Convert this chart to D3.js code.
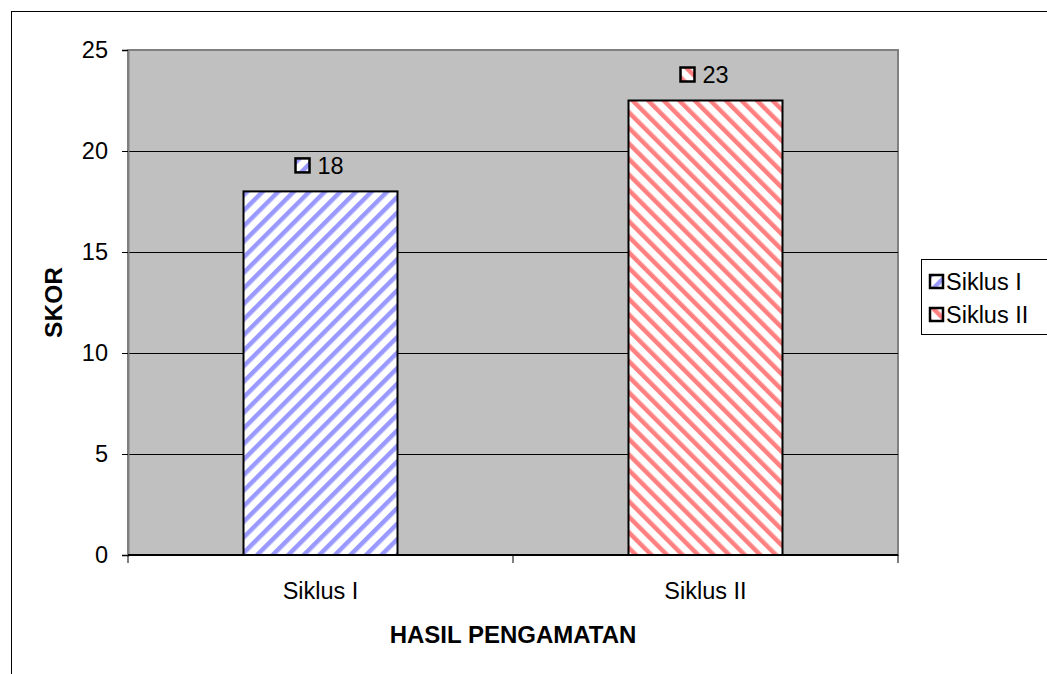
<!DOCTYPE html>
<html>
<head>
<meta charset="utf-8">
<style>
  body { margin: 0; background: #fff }
  text { font-family: Arial, "Liberation Sans", sans-serif }
</style>
<script type="text/javascript" src="https://d3js.org/d3.v7.min.js"></script>
</head>
<body>
<svg id="chart"></svg>
<script type="text/javascript">
let categories = ['Siklus I', 'Siklus II']
let values = [18, 22.5]
let yTicks = [0, 5, 10, 15, 20, 25]
let colors = ['#9999ff', '#ff8080']

let width = 1047,
    height = 674

let plot = {left: 128, right: 898, top: 50, bottom: 555}
let fontSize = 23.5

let svg = d3.select('#chart')
    .attr('width', width)
    .attr('height', height)

// stripe patterns
let defs = svg.append('defs')
colors.forEach(function(c, i) {
  let p = defs.append('pattern')
      .attr('id', 'stripe' + i)
      .attr('patternUnits', 'userSpaceOnUse')
      .attr('width', 11)
      .attr('height', 11)
      .attr('patternTransform', 'rotate(' + (i == 0 ? 45 : -45) + ')')
  p.append('rect').attr('width', 11).attr('height', 11).attr('fill', '#fff')
  p.append('rect').attr('width', 4.5).attr('height', 11).attr('fill', c)
})

// outer chart border
svg.append('rect')
    .attr('x', 11.5).attr('y', 11.5)
    .attr('width', width).attr('height', height)
    .attr('fill', 'none').attr('stroke', '#000').attr('stroke-width', 1)

let x = d3.scaleBand()
    .domain(categories)
    .range([plot.left, plot.right])
    .paddingInner(0.6)
    .paddingOuter(0.3)

let y = d3.scaleLinear()
    .domain([0, 25])
    .range([plot.bottom, plot.top])

svg.append('rect')
    .attr('x', plot.left).attr('y', plot.top)
    .attr('width', plot.right - plot.left).attr('height', plot.bottom - plot.top)
    .attr('fill', '#c0c0c0')
    .attr('stroke', '#808080').attr('stroke-width', 2)

svg.append('g')
  .selectAll('line')
  .data(yTicks.filter(function(d) { return d > 0 && d < 25 }))
  .enter()
  .append('line')
    .attr('x1', plot.left).attr('x2', plot.right)
    .attr('y1', function(d) { return Math.round(y(d)) + 0.5 })
    .attr('y2', function(d) { return Math.round(y(d)) + 0.5 })
    .attr('stroke', '#000')

// bars
svg.append('g')
  .selectAll('rect')
  .data(values)
  .enter()
  .append('rect')
    .attr('x', function(d, i) { return x(categories[i]) })
    .attr('y', function(d) { return y(d) })
    .attr('width', x.bandwidth())
    .attr('height', function(d) { return y(0) - y(d) })
    .attr('fill', function(d, i) { return 'url(#stripe' + i + ')' })
    .attr('stroke', '#000').attr('stroke-width', 2)

// y axis
let yAxis = svg.append('g')
    .attr('transform', 'translate(' + plot.left + ',0)')
    .call(d3.axisLeft(y).tickValues(yTicks).tickSize(6).tickPadding(14))
yAxis.select('.domain').attr('stroke', '#808080').attr('stroke-width', 2)
yAxis.selectAll('.tick line').attr('stroke', '#000')
yAxis.selectAll('text').attr('font-size', fontSize).attr('fill', '#000')
    .attr('font-family', 'Arial, "Liberation Sans", sans-serif')

// x axis
let xAxis = svg.append('g')
    .attr('transform', 'translate(0,' + plot.bottom + ')')
xAxis.append('line')
    .attr('x1', plot.left).attr('x2', plot.right)
    .attr('stroke', '#000').attr('stroke-width', 2)
xAxis.selectAll('line.tk')
  .data([plot.left, (plot.left + plot.right) / 2, plot.right])
  .enter()
  .append('line')
    .attr('class', 'tk')
    .attr('x1', function(d) { return d }).attr('x2', function(d) { return d })
    .attr('y1', 0).attr('y2', 8)
    .attr('stroke', '#000')
xAxis.selectAll('text')
  .data(categories)
  .enter()
  .append('text')
    .attr('x', function(d) { return x(d) + x.bandwidth() / 2 })
    .attr('y', 44)
    .attr('text-anchor', 'middle')
    .attr('font-size', fontSize)
    .text(function(d) { return d })

// data labels
let labels = svg.append('g')
  .selectAll('g')
  .data(values)
  .enter()
  .append('g')
    .attr('transform', function(d, i) {
      return 'translate(' + (x(categories[i]) + x.bandwidth() / 2) + ',' + (y(d) - 26) + ')'
    })
labels.append('rect')
    .attr('x', -25).attr('y', -7)
    .attr('width', 14).attr('height', 14)
    .attr('fill', function(d, i) { return 'url(#stripe' + i + ')' })
    .attr('stroke', '#000').attr('stroke-width', 2.5)
labels.append('text')
    .attr('x', -3).attr('y', 8.5)
    .attr('font-size', fontSize)
    .text(function(d) { return Math.round(d) })

// axis titles
svg.append('text')
    .attr('transform', 'translate(62,' + ((plot.top + plot.bottom) / 2) + ') rotate(-90)')
    .attr('text-anchor', 'middle')
    .attr('font-size', 24.5).attr('font-weight', 'bold')
    .text('SKOR')

svg.append('text')
    .attr('x', (plot.left + plot.right) / 2)
    .attr('y', 643)
    .attr('text-anchor', 'middle')
    .attr('font-size', 24).attr('font-weight', 'bold')
    .text('HASIL PENGAMATAN')

// legend
let legend = svg.append('g')
    .attr('transform', 'translate(921,259)')
legend.append('rect')
    .attr('x', 0.5).attr('y', 0.5)
    .attr('width', 140).attr('height', 75)
    .attr('fill', '#fff').attr('stroke', '#000')
let li = legend.selectAll('g')
  .data(categories)
  .enter()
  .append('g')
    .attr('transform', function(d, i) { return 'translate(0,' + (23 + i * 33) + ')' })
li.append('rect')
    .attr('x', 9).attr('y', -7)
    .attr('width', 13).attr('height', 13)
    .attr('fill', function(d, i) { return 'url(#stripe' + i + ')' })
    .attr('stroke', '#000').attr('stroke-width', 2.5)
li.append('text')
    .attr('x', 25).attr('y', 8)
    .attr('font-size', fontSize)
    .text(function(d) { return d })
</script>
</body>
</html>
